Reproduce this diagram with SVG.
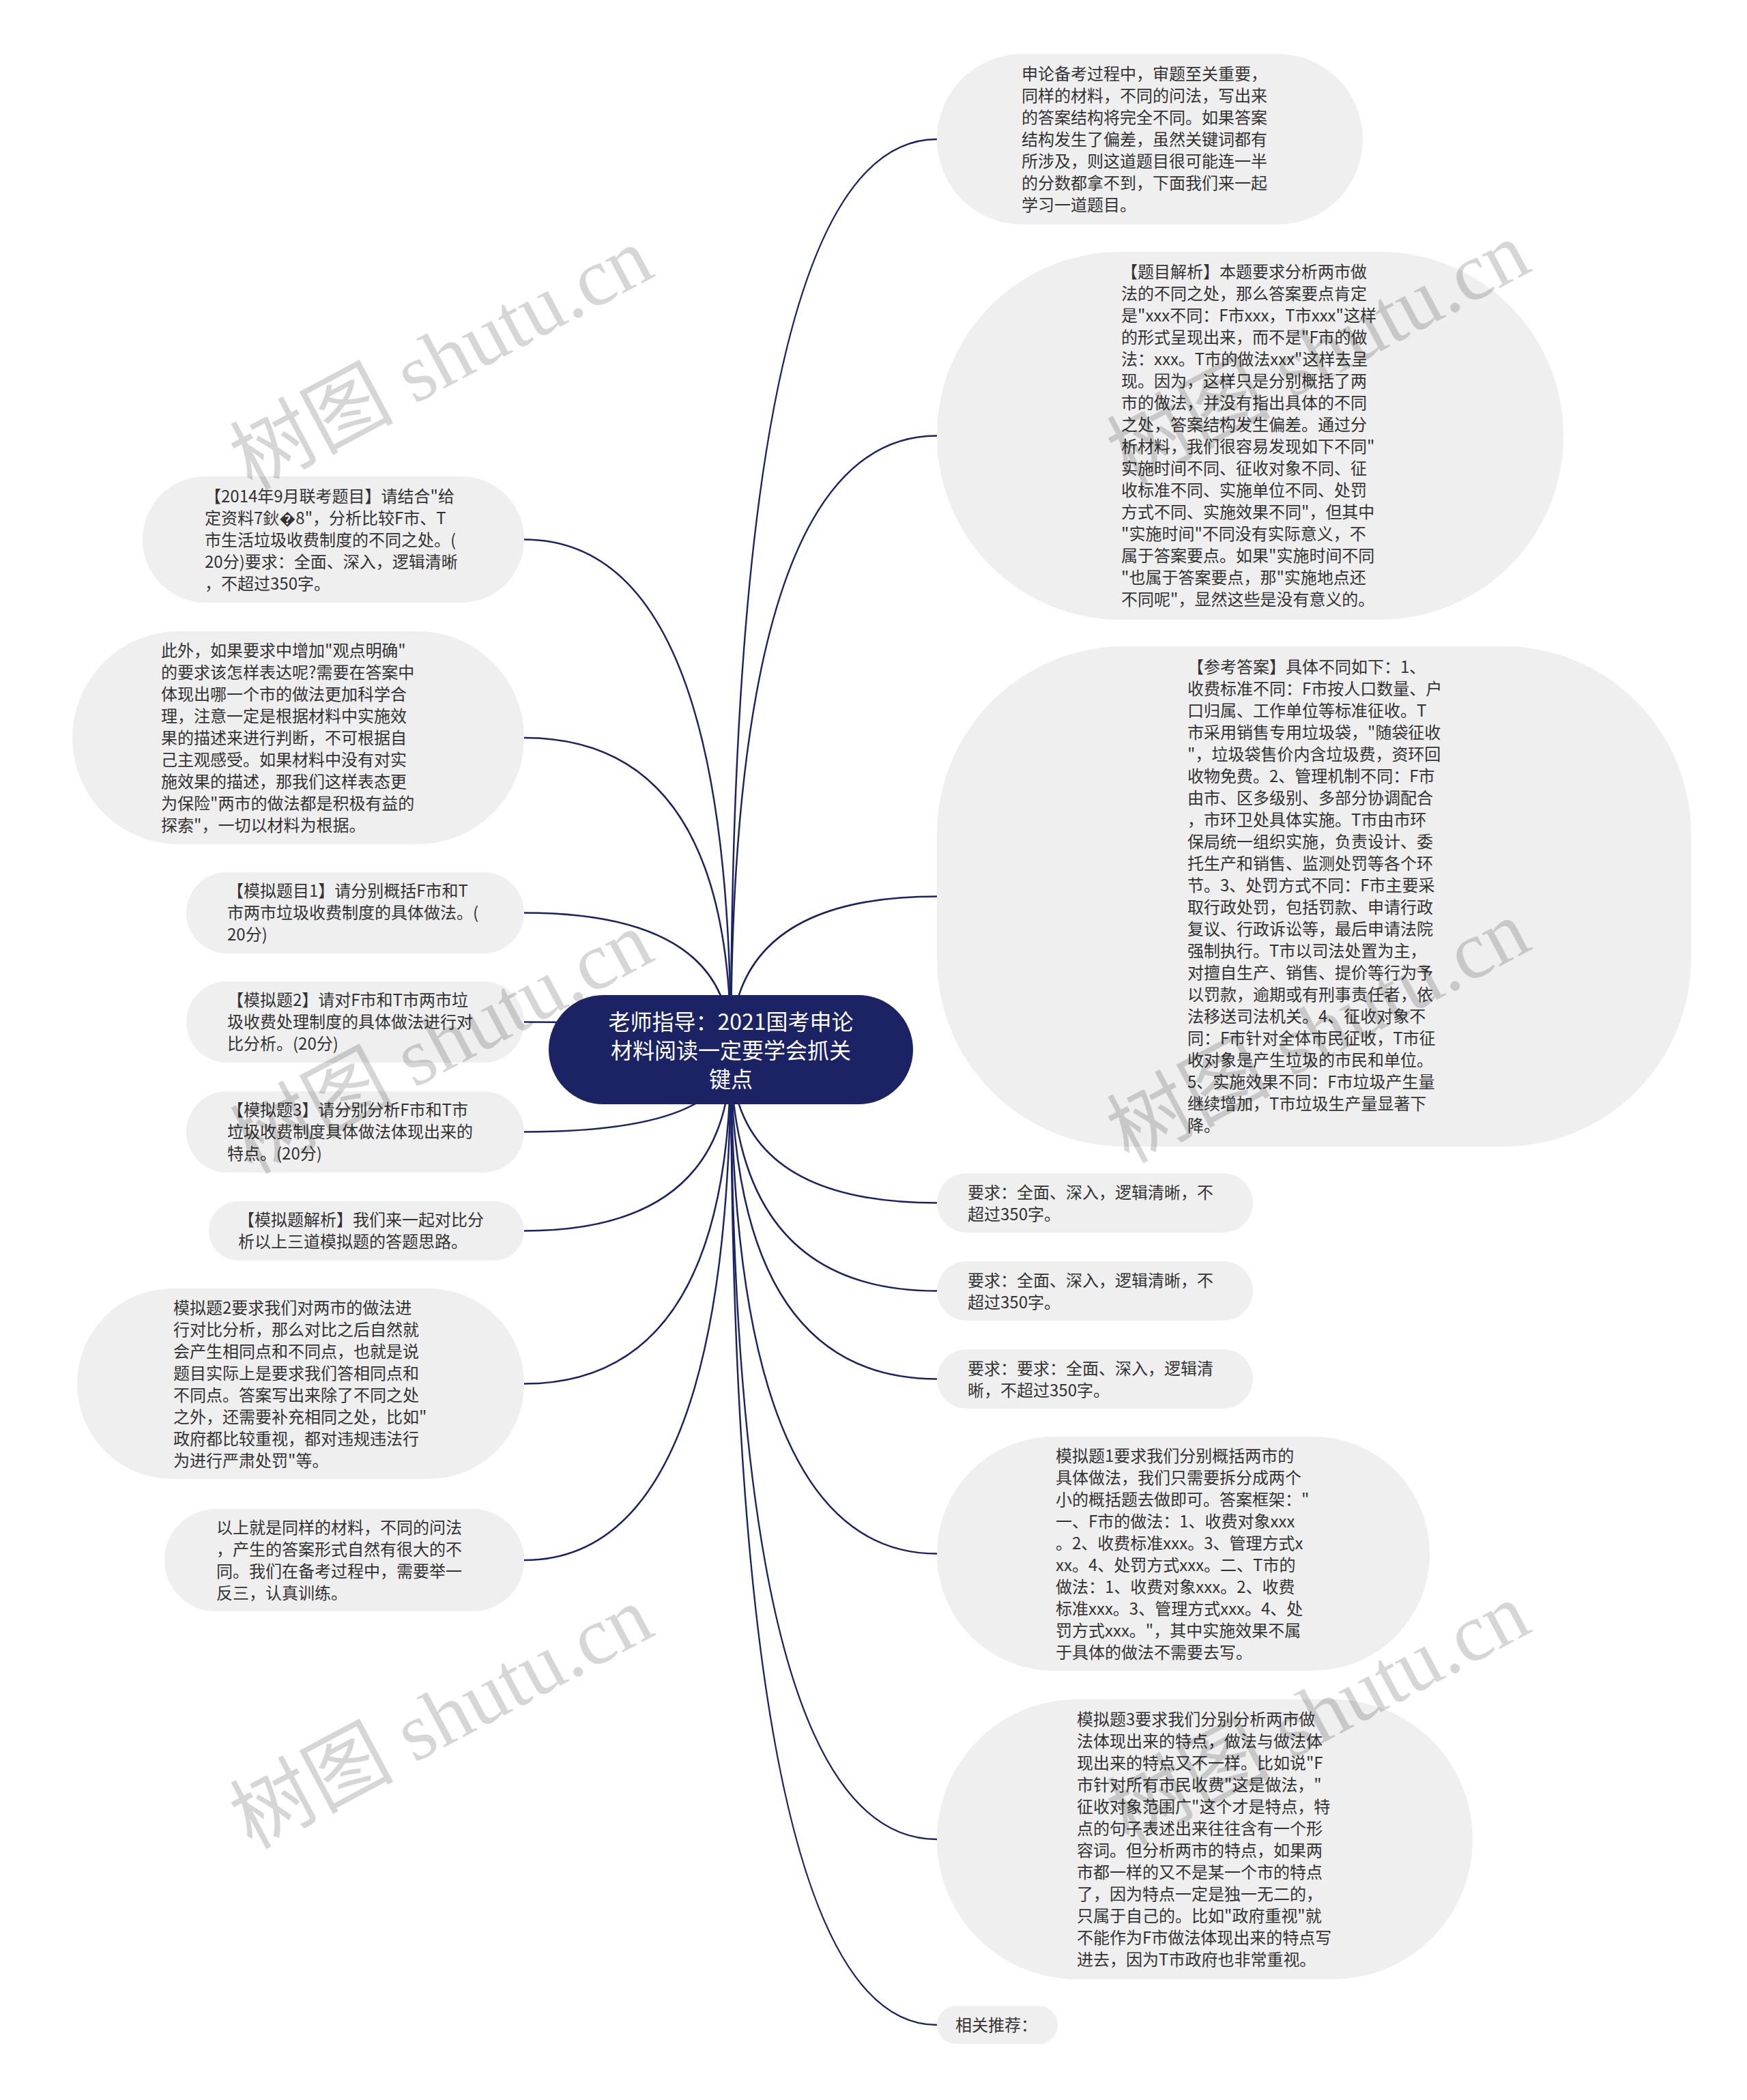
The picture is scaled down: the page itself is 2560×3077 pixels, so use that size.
<svg xmlns="http://www.w3.org/2000/svg" width="2560" height="3077" viewBox="0 0 2560 3077">
<style>
.bg{fill:#ffffff}
.node{fill:#efefef}
.root{fill:#1c2365}
.t{font-family:"Noto Sans CJK SC","Noto Sans",sans-serif;font-size:24px;fill:#333333}
.rt{font-family:"Noto Sans CJK SC","Noto Sans",sans-serif;font-size:32px;fill:#ffffff;text-anchor:middle}
.edge{fill:none;stroke:#1c2365;stroke-width:2.5}
.wm{font-family:"Liberation Serif","Noto Sans CJK SC",serif;font-size:120px;fill:#000000;fill-opacity:0.16;text-anchor:middle}
</style>
<rect class="bg" x="0" y="0" width="2560" height="3077"/>
<g id="connectors">
<path class="edge" d="M1071 1538 Q1071 204 1373 204"/>
<path class="edge" d="M1071 1538 Q1071 638.5 1373 638.5"/>
<path class="edge" d="M1071 1538 Q1071 1313.5 1373 1313.5"/>
<path class="edge" d="M1071 1538 Q1071 1762.5 1373 1762.5"/>
<path class="edge" d="M1071 1538 Q1071 1891.5 1373 1891.5"/>
<path class="edge" d="M1071 1538 Q1071 2020.5 1373 2020.5"/>
<path class="edge" d="M1071 1538 Q1071 2276.5 1373 2276.5"/>
<path class="edge" d="M1071 1538 Q1071 2695 1373 2695"/>
<path class="edge" d="M1071 1538 Q1071 2967 1373 2967"/>
<path class="edge" d="M1071 1538 Q1071 790.5 768 790.5"/>
<path class="edge" d="M1071 1538 Q1071 1081 768 1081"/>
<path class="edge" d="M1071 1538 Q1071 1337.5 768 1337.5"/>
<path class="edge" d="M1071 1538 Q1071 1497.5 768 1497.5"/>
<path class="edge" d="M1071 1538 Q1071 1658.5 768 1658.5"/>
<path class="edge" d="M1071 1538 Q1071 1803.5 768 1803.5"/>
<path class="edge" d="M1071 1538 Q1071 2027.5 768 2027.5"/>
<path class="edge" d="M1071 1538 Q1071 2286 768 2286"/>
</g>
<g id="root">
<rect class="root" x="804" y="1458" width="534" height="160" rx="80"/>
<text class="rt" x="1071" y="1509">老师指导：2021国考申论<tspan x="1071" dy="42">材料阅读一定要学会抓关</tspan><tspan x="1071" dy="42">键点</tspan></text>
</g>
<g id="r1">
<rect class="node" x="1373" y="79" width="624" height="250" rx="125"/>
<text class="t" x="1497" y="117">申论备考过程中，审题至关重要，<tspan x="1497" dy="32">同样的材料，不同的问法，写出来</tspan><tspan x="1497" dy="32">的答案结构将完全不同。如果答案</tspan><tspan x="1497" dy="32">结构发生了偏差，虽然关键词都有</tspan><tspan x="1497" dy="32">所涉及，则这道题目很可能连一半</tspan><tspan x="1497" dy="32">的分数都拿不到，下面我们来一起</tspan><tspan x="1497" dy="32">学习一道题目。</tspan></text>
</g>
<g id="r2">
<rect class="node" x="1373" y="369" width="918" height="539" rx="269"/>
<text class="t" x="1643" y="407">【题目解析】本题要求分析两市做<tspan x="1643" dy="32">法的不同之处，那么答案要点肯定</tspan><tspan x="1643" dy="32">是"xxx不同：F市xxx，T市xxx"这样</tspan><tspan x="1643" dy="32">的形式呈现出来，而不是"F市的做</tspan><tspan x="1643" dy="32">法：xxx。T市的做法xxx"这样去呈</tspan><tspan x="1643" dy="32">现。因为，这样只是分别概括了两</tspan><tspan x="1643" dy="32">市的做法，并没有指出具体的不同</tspan><tspan x="1643" dy="32">之处，答案结构发生偏差。通过分</tspan><tspan x="1643" dy="32">析材料，我们很容易发现如下不同"</tspan><tspan x="1643" dy="32">实施时间不同、征收对象不同、征</tspan><tspan x="1643" dy="32">收标准不同、实施单位不同、处罚</tspan><tspan x="1643" dy="32">方式不同、实施效果不同"，但其中</tspan><tspan x="1643" dy="32">"实施时间"不同没有实际意义，不</tspan><tspan x="1643" dy="32">属于答案要点。如果"实施时间不同</tspan><tspan x="1643" dy="32">"也属于答案要点，那"实施地点还</tspan><tspan x="1643" dy="32">不同呢"，显然这些是没有意义的。</tspan></text>
</g>
<g id="r3">
<rect class="node" x="1373" y="947" width="1105" height="733" rx="275"/>
<text class="t" x="1740" y="986">【参考答案】具体不同如下：1、<tspan x="1740" dy="32">收费标准不同：F市按人口数量、户</tspan><tspan x="1740" dy="32">口归属、工作单位等标准征收。T</tspan><tspan x="1740" dy="32">市采用销售专用垃圾袋，"随袋征收</tspan><tspan x="1740" dy="32">"，垃圾袋售价内含垃圾费，资环回</tspan><tspan x="1740" dy="32">收物免费。2、管理机制不同：F市</tspan><tspan x="1740" dy="32">由市、区多级别、多部分协调配合</tspan><tspan x="1740" dy="32">，市环卫处具体实施。T市由市环</tspan><tspan x="1740" dy="32">保局统一组织实施，负责设计、委</tspan><tspan x="1740" dy="32">托生产和销售、监测处罚等各个环</tspan><tspan x="1740" dy="32">节。3、处罚方式不同：F市主要采</tspan><tspan x="1740" dy="32">取行政处罚，包括罚款、申请行政</tspan><tspan x="1740" dy="32">复议、行政诉讼等，最后申请法院</tspan><tspan x="1740" dy="32">强制执行。T市以司法处置为主，</tspan><tspan x="1740" dy="32">对擅自生产、销售、提价等行为予</tspan><tspan x="1740" dy="32">以罚款，逾期或有刑事责任者，依</tspan><tspan x="1740" dy="32">法移送司法机关。4、征收对象不</tspan><tspan x="1740" dy="32">同：F市针对全体市民征收，T市征</tspan><tspan x="1740" dy="32">收对象是产生垃圾的市民和单位。</tspan><tspan x="1740" dy="32">5、实施效果不同：F市垃圾产生量</tspan><tspan x="1740" dy="32">继续增加，T市垃圾生产量显著下</tspan><tspan x="1740" dy="32">降。</tspan></text>
</g>
<g id="r4">
<rect class="node" x="1373" y="1719" width="463" height="87" rx="43.5"/>
<text class="t" x="1418" y="1756">要求：全面、深入，逻辑清晰，不<tspan x="1418" dy="32">超过350字。</tspan></text>
</g>
<g id="r5">
<rect class="node" x="1373" y="1848" width="463" height="87" rx="43.5"/>
<text class="t" x="1418" y="1885">要求：全面、深入，逻辑清晰，不<tspan x="1418" dy="32">超过350字。</tspan></text>
</g>
<g id="r6">
<rect class="node" x="1373" y="1977" width="463" height="87" rx="43.5"/>
<text class="t" x="1418" y="2014">要求：要求：全面、深入，逻辑清<tspan x="1418" dy="32">晰，不超过350字。</tspan></text>
</g>
<g id="r7">
<rect class="node" x="1373" y="2105" width="722" height="343" rx="171"/>
<text class="t" x="1547" y="2142">模拟题1要求我们分别概括两市的<tspan x="1547" dy="32">具体做法，我们只需要拆分成两个</tspan><tspan x="1547" dy="32">小的概括题去做即可。答案框架："</tspan><tspan x="1547" dy="32">一、F市的做法：1、收费对象xxx</tspan><tspan x="1547" dy="32">。2、收费标准xxx。3、管理方式x</tspan><tspan x="1547" dy="32">xx。4、处罚方式xxx。二、T市的</tspan><tspan x="1547" dy="32">做法：1、收费对象xxx。2、收费</tspan><tspan x="1547" dy="32">标准xxx。3、管理方式xxx。4、处</tspan><tspan x="1547" dy="32">罚方式xxx。"，其中实施效果不属</tspan><tspan x="1547" dy="32">于具体的做法不需要去写。</tspan></text>
</g>
<g id="r8">
<rect class="node" x="1373" y="2490" width="785" height="410" rx="205"/>
<text class="t" x="1578" y="2528">模拟题3要求我们分别分析两市做<tspan x="1578" dy="32">法体现出来的特点，做法与做法体</tspan><tspan x="1578" dy="32">现出来的特点又不一样。比如说"F</tspan><tspan x="1578" dy="32">市针对所有市民收费"这是做法，"</tspan><tspan x="1578" dy="32">征收对象范围广"这个才是特点，特</tspan><tspan x="1578" dy="32">点的句子表述出来往往含有一个形</tspan><tspan x="1578" dy="32">容词。但分析两市的特点，如果两</tspan><tspan x="1578" dy="32">市都一样的又不是某一个市的特点</tspan><tspan x="1578" dy="32">了，因为特点一定是独一无二的，</tspan><tspan x="1578" dy="32">只属于自己的。比如"政府重视"就</tspan><tspan x="1578" dy="32">不能作为F市做法体现出来的特点写</tspan><tspan x="1578" dy="32">进去，因为T市政府也非常重视。</tspan></text>
</g>
<g id="r9">
<rect class="node" x="1373" y="2939" width="177" height="56" rx="28"/>
<text class="t" x="1400" y="2976">相关推荐：</text>
</g>
<g id="l1">
<rect class="node" x="209" y="698" width="559" height="185" rx="92"/>
<text class="t" x="300" y="736">【2014年9月联考题目】请结合"给<tspan x="300" dy="32">定资料7鈥�8"，分析比较F市、T</tspan><tspan x="300" dy="32">市生活垃圾收费制度的不同之处。(</tspan><tspan x="300" dy="32">20分)要求：全面、深入，逻辑清晰</tspan><tspan x="300" dy="32">，不超过350字。</tspan></text>
</g>
<g id="l2">
<rect class="node" x="106" y="925" width="662" height="312" rx="156"/>
<text class="t" x="236" y="962">此外，如果要求中增加"观点明确"<tspan x="236" dy="32">的要求该怎样表达呢?需要在答案中</tspan><tspan x="236" dy="32">体现出哪一个市的做法更加科学合</tspan><tspan x="236" dy="32">理，注意一定是根据材料中实施效</tspan><tspan x="236" dy="32">果的描述来进行判断，不可根据自</tspan><tspan x="236" dy="32">己主观感受。如果材料中没有对实</tspan><tspan x="236" dy="32">施效果的描述，那我们这样表态更</tspan><tspan x="236" dy="32">为保险"两市的做法都是积极有益的</tspan><tspan x="236" dy="32">探索"，一切以材料为根据。</tspan></text>
</g>
<g id="l3">
<rect class="node" x="273" y="1278" width="495" height="119" rx="59.5"/>
<text class="t" x="333" y="1314">【模拟题目1】请分别概括F市和T<tspan x="333" dy="32">市两市垃圾收费制度的具体做法。(</tspan><tspan x="333" dy="32">20分)</tspan></text>
</g>
<g id="l4">
<rect class="node" x="273" y="1438" width="495" height="119" rx="59.5"/>
<text class="t" x="333" y="1474">【模拟题2】请对F市和T市两市垃<tspan x="333" dy="32">圾收费处理制度的具体做法进行对</tspan><tspan x="333" dy="32">比分析。(20分)</tspan></text>
</g>
<g id="l5">
<rect class="node" x="273" y="1599" width="495" height="119" rx="59.5"/>
<text class="t" x="333" y="1635">【模拟题3】请分别分析F市和T市<tspan x="333" dy="32">垃圾收费制度具体做法体现出来的</tspan><tspan x="333" dy="32">特点。(20分)</tspan></text>
</g>
<g id="l6">
<rect class="node" x="306" y="1760" width="462" height="87" rx="43.5"/>
<text class="t" x="349" y="1796">【模拟题解析】我们来一起对比分<tspan x="349" dy="32">析以上三道模拟题的答题思路。</tspan></text>
</g>
<g id="l7">
<rect class="node" x="113" y="1888" width="655" height="279" rx="139.5"/>
<text class="t" x="254" y="1925">模拟题2要求我们对两市的做法进<tspan x="254" dy="32">行对比分析，那么对比之后自然就</tspan><tspan x="254" dy="32">会产生相同点和不同点，也就是说</tspan><tspan x="254" dy="32">题目实际上是要求我们答相同点和</tspan><tspan x="254" dy="32">不同点。答案写出来除了不同之处</tspan><tspan x="254" dy="32">之外，还需要补充相同之处，比如"</tspan><tspan x="254" dy="32">政府都比较重视，都对违规违法行</tspan><tspan x="254" dy="32">为进行严肃处罚"等。</tspan></text>
</g>
<g id="l8">
<rect class="node" x="241" y="2211" width="527" height="150" rx="75"/>
<text class="t" x="317" y="2247">以上就是同样的材料，不同的问法<tspan x="317" dy="32">，产生的答案形式自然有很大的不</tspan><tspan x="317" dy="32">同。我们在备考过程中，需要举一</tspan><tspan x="317" dy="32">反三，认真训练。</tspan></text>
</g>
<g id="watermarks">
<text class="wm" transform="translate(647 526) rotate(-28)" x="0" y="40">树图 shutu.cn</text>
<text class="wm" transform="translate(1932 518) rotate(-28)" x="0" y="40">树图 shutu.cn</text>
<text class="wm" transform="translate(647 1528) rotate(-28)" x="0" y="40">树图 shutu.cn</text>
<text class="wm" transform="translate(1932 1512) rotate(-28)" x="0" y="40">树图 shutu.cn</text>
<text class="wm" transform="translate(647 2517) rotate(-28)" x="0" y="40">树图 shutu.cn</text>
<text class="wm" transform="translate(1932 2512) rotate(-28)" x="0" y="40">树图 shutu.cn</text>
</g>
</svg>
